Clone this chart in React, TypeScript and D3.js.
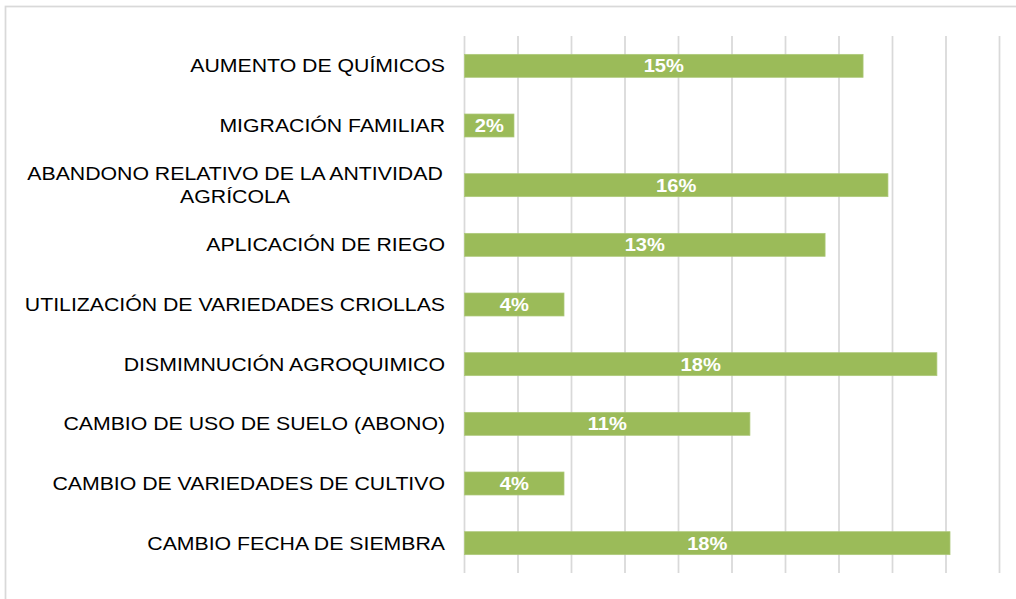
import React from "react";
import * as d3 from "d3";

const categories: string[][] = [
  ["AUMENTO DE QUÍMICOS"],
  ["MIGRACIÓN FAMILIAR"],
  ["ABANDONO RELATIVO DE LA ANTIVIDAD", "AGRÍCOLA"],
  ["APLICACIÓN DE RIEGO"],
  ["UTILIZACIÓN DE VARIEDADES CRIOLLAS"],
  ["DISMIMNUCIÓN AGROQUIMICO"],
  ["CAMBIO DE USO DE SUELO (ABONO)"],
  ["CAMBIO DE VARIEDADES DE CULTIVO"],
  ["CAMBIO FECHA DE SIEMBRA"],
];
const values: number[] = [0.149, 0.0185, 0.1583, 0.1348, 0.0372, 0.1766, 0.1067, 0.0372, 0.1815];
const ticks: number[] = [0, 0.02, 0.04, 0.06, 0.08, 0.1, 0.12, 0.14, 0.16, 0.18, 0.2];

const W = 1016;
const H = 599;
const SX = 1.15;
const FONT = "'Liberation Sans', Arial, sans-serif";

export default function App() {
  const x = d3.scaleLinear().domain([0, 0.2]).range([464.5, 999.5]);
  const idx = categories.map((_, i) => String(i));
  const y = d3.scaleBand<string>().domain(idx).range([36, 573]).paddingInner(0.615).paddingOuter(0.3075);
  const fmt = d3.format(".0%");

  return (
    <svg width={W} height={H} style={{ position: "absolute", left: 0, top: 0, background: "#fff" }}>
      <rect x={0} y={0} width={W} height={H} fill="#fff" />
      <rect x={5.5} y={6.5} width={W + 20} height={H + 20} fill="none" stroke="#d9d9d9" strokeWidth={1.75} />
      {ticks.map((t, i) => (
        <line key={i} x1={x(t)} x2={x(t)} y1={36} y2={573} stroke="#d9d9d9" strokeWidth={1.75} />
      ))}
      {values.map((v, i) => {
        const yy = y(String(i))!;
        return (
          <rect key={i} x={x(0)} y={yy} width={x(v) - x(0)} height={y.bandwidth()} fill="#9bbb59" stroke="#aec97a" strokeWidth={0.75} />
        );
      })}
      {values.map((v, i) => {
        const cy = y(String(i))! + y.bandwidth() / 2;
        const cx = (x(0) + x(v)) / 2;
        return (
          <text key={i} transform={`translate(${cx},${cy + 6.5}) scale(${SX},1)`} textAnchor="middle" fill="#fff" fontWeight="bold" fontSize={17.5} fontFamily={FONT}>
            {fmt(v)}
          </text>
        );
      })}
      {categories.map((lines, i) => {
        const cy = y(String(i))! + y.bandwidth() / 2;
        const lh = 23;
        if (lines.length === 1) {
          return (
            <text key={i} transform={`translate(445,${cy + 6.5}) scale(${SX},1)`} textAnchor="end" fill="#000" fontSize={18.5} fontFamily={FONT}>
              {lines[0]}
            </text>
          );
        }
        return (
          <g key={i}>
            {lines.map((l, j) => (
              <text key={j} transform={`translate(235,${cy + 6.5 + (j - (lines.length - 1) / 2) * lh}) scale(${SX},1)`} textAnchor="middle" fill="#000" fontSize={18.5} fontFamily={FONT}>
                {l}
              </text>
            ))}
          </g>
        );
      })}
    </svg>
  );
}
